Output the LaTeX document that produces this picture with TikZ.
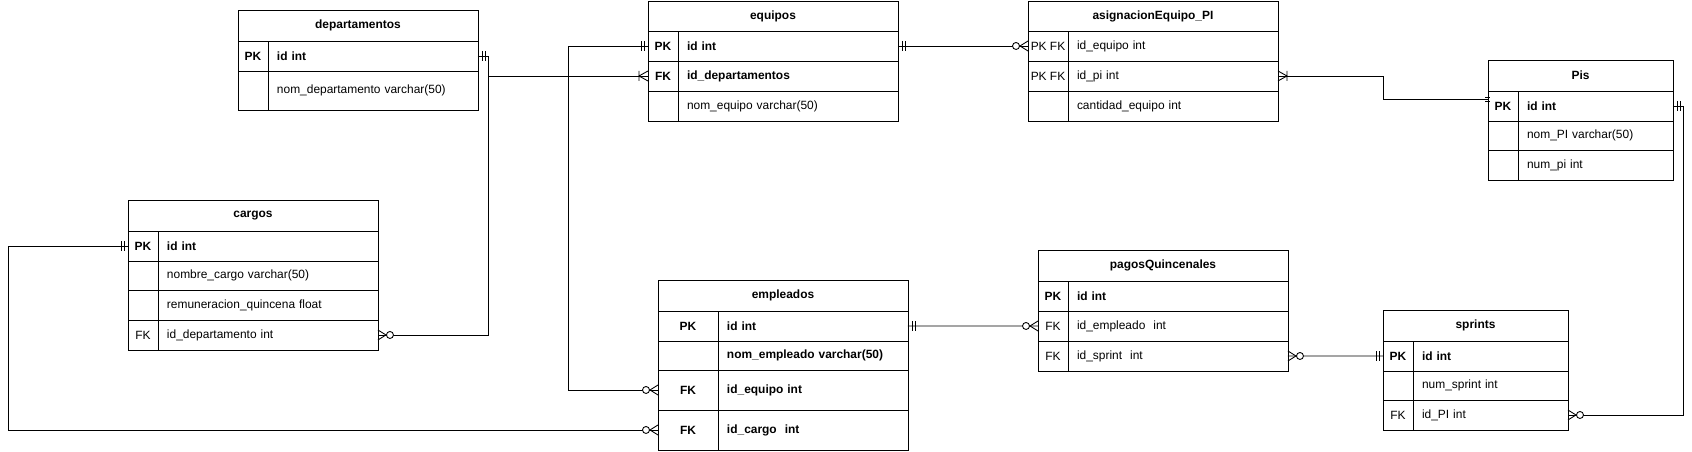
\documentclass[tikz,border=0pt]{standalone}
\usepackage{fontspec}
\setmainfont{Liberation Sans}
\usetikzlibrary{positioning}

\tikzset{
  cell/.style={draw, line width=0.5pt, outer sep=0pt, inner sep=0pt, minimum height=0.6cm,
    font=\fontsize{6.8}{8}\selectfont},
  hdr/.style={cell, font=\fontsize{6.8}{8}\selectfont\bfseries, minimum width=#1,
    minimum height=0.62cm, anchor=north west},
  key/.style={cell, minimum width=#1},
  fld/.style={cell, text width=#1, inner xsep=0.18cm, align=left},
  bf/.style={font=\fontsize{6.8}{8}\selectfont\bfseries},
  conn/.style={line width=0.5pt},
  % crow's foot ends, drawn pointing away from the table
  mone/.pic={\draw[conn] (4,-5) -- (4,5) (7,-5) -- (7,5);},
  mtop/.pic={\draw[conn] (-3,-2) -- (2,-2) (-3,2) -- (2,2);},
  zmany/.pic={\draw[conn] (0,-5) -- (8,0) -- (0,5);
    \draw[conn, fill=white] (12,0) circle[radius=0.07cm];},
  omany/.pic={\draw[conn] (0,-5) -- (9,0) -- (0,5) (9,-5) -- (9,5);}
}

\begin{document}
\begin{tikzpicture}[x=0.02cm, y=-0.02cm]
    \fill[white] (0,0) rectangle (1692,452);
    \useasboundingbox (0,0) rectangle (1692,452);

    % departamentos
    \node[hdr=4.8cm] (dep) at (238,10) {departamentos};
    \node[key=0.6cm, bf, below right=0pt of dep.south west] (dep-idk) {PK};
    \node[fld=3.84cm, bf, right=0pt of dep-idk] (dep-id) {id int};
    \node[key=0.6cm, minimum height=0.78cm, below=0pt of dep-idk] (dep-nomk) {};
    \node[fld=3.84cm, minimum height=0.78cm, right=0pt of dep-nomk] (dep-nom) {nom\_departamento varchar(50)};

    % equipos
    \node[hdr=5cm, minimum height=0.6cm] (eq) at (648,1) {equipos};
    \node[key=0.6cm, bf, below right=0pt of eq.south west] (eq-idk) {PK};
    \node[fld=4.04cm, bf, right=0pt of eq-idk] (eq-id) {id int};
    \node[key=0.6cm, bf, below=0pt of eq-idk] (eq-fkk) {FK};
    \node[fld=4.04cm, bf, right=0pt of eq-fkk] (eq-fk) {id\_departamentos};
    \node[key=0.6cm, below=0pt of eq-fkk] (eq-nomk) {};
    \node[fld=4.04cm, right=0pt of eq-nomk] (eq-nom) {nom\_equipo varchar(50)};

    % asignacionEquipo_PI
    \node[hdr=5cm, minimum height=0.6cm] (as) at (1028,1) {asignacionEquipo\_PI};
    \node[key=0.8cm, below right=0pt of as.south west] (as-eqk) {PK FK};
    \node[fld=3.84cm, right=0pt of as-eqk] (as-eq) {id\_equipo int};
    \node[key=0.8cm, below=0pt of as-eqk] (as-pik) {PK FK};
    \node[fld=3.84cm, right=0pt of as-pik] (as-pi) {id\_pi int};
    \node[key=0.8cm, below=0pt of as-pik] (as-cank) {};
    \node[fld=3.84cm, right=0pt of as-cank] (as-can) {cantidad\_equipo int};

    % Pis
    \node[hdr=3.7cm] (pis) at (1488,60) {Pis};
    \node[key=0.6cm, bf, below right=0pt of pis.south west] (pis-idk) {PK};
    \node[fld=2.74cm, bf, right=0pt of pis-idk] (pis-id) {id int};
    \node[key=0.6cm, minimum height=0.58cm, below=0pt of pis-idk] (pis-nomk) {};
    \node[fld=2.74cm, minimum height=0.58cm, right=0pt of pis-nomk] (pis-nom) {nom\_PI varchar(50)};
    \node[key=0.6cm, below=0pt of pis-nomk] (pis-numk) {};
    \node[fld=2.74cm, right=0pt of pis-numk] (pis-num) {num\_pi int};

    % cargos
    \node[hdr=5cm] (car) at (128,200) {cargos};
    \node[key=0.6cm, bf, below right=0pt of car.south west] (car-idk) {PK};
    \node[fld=4.04cm, bf, right=0pt of car-idk] (car-id) {id int};
    \node[key=0.6cm, minimum height=0.58cm, below=0pt of car-idk] (car-nomk) {};
    \node[fld=4.04cm, minimum height=0.58cm, right=0pt of car-nomk] (car-nom) {nombre\_cargo varchar(50)};
    \node[key=0.6cm, below=0pt of car-nomk] (car-remk) {};
    \node[fld=4.04cm, right=0pt of car-remk] (car-rem) {remuneracion\_quincena float};
    \node[key=0.6cm, below=0pt of car-remk] (car-depk) {FK};
    \node[fld=4.04cm, right=0pt of car-depk] (car-dep) {id\_departamento int};

    % empleados
    \node[hdr=5cm] (emp) at (658,280) {empleados};
    \node[key=1.2cm, bf, below right=0pt of emp.south west] (emp-idk) {PK};
    \node[fld=3.44cm, bf, right=0pt of emp-idk] (emp-id) {id int};
    \node[key=1.2cm, minimum height=0.58cm, below=0pt of emp-idk] (emp-nomk) {};
    \node[fld=3.44cm, bf, minimum height=0.58cm, right=0pt of emp-nomk] (emp-nom) {nom\_empleado varchar(50)};
    \node[key=1.2cm, bf, minimum height=0.8cm, below=0pt of emp-nomk] (emp-eqk) {FK};
    \node[fld=3.44cm, bf, minimum height=0.8cm, right=0pt of emp-eqk] (emp-eq) {id\_equipo int};
    \node[key=1.2cm, bf, minimum height=0.8cm, below=0pt of emp-eqk] (emp-cark) {FK};
    \node[fld=3.44cm, bf, minimum height=0.8cm, right=0pt of emp-cark] (emp-car) {id\_cargo~ int};

    % pagosQuincenales
    \node[hdr=5cm] (pag) at (1038,250) {pagosQuincenales};
    \node[key=0.6cm, bf, below right=0pt of pag.south west] (pag-idk) {PK};
    \node[fld=4.04cm, bf, right=0pt of pag-idk] (pag-id) {id int};
    \node[key=0.6cm, below=0pt of pag-idk] (pag-empk) {FK};
    \node[fld=4.04cm, right=0pt of pag-empk] (pag-emp) {id\_empleado~ int};
    \node[key=0.6cm, below=0pt of pag-empk] (pag-sprk) {FK};
    \node[fld=4.04cm, right=0pt of pag-sprk] (pag-spr) {id\_sprint~ int};

    % sprints
    \node[hdr=3.7cm] (spr) at (1383,310) {sprints};
    \node[key=0.6cm, bf, below right=0pt of spr.south west] (spr-idk) {PK};
    \node[fld=2.74cm, bf, right=0pt of spr-idk] (spr-id) {id int};
    \node[key=0.6cm, minimum height=0.58cm, below=0pt of spr-idk] (spr-numk) {};
    \node[fld=2.74cm, minimum height=0.58cm, right=0pt of spr-numk] (spr-num) {num\_sprint int};
    \node[key=0.6cm, below=0pt of spr-numk] (spr-pik) {FK};
    \node[fld=2.74cm, right=0pt of spr-pik] (spr-pi) {id\_PI int};

    % relations
    \draw[conn] (dep-id.east) -- ++(10,0) |- (eq-fkk.west);
    \draw[conn] (dep-id.east) -- ++(10,0) |- (car-dep.east);
    \draw[conn] (eq-idk.west) -- ++(-80,0) |- (emp-eqk.west);
    \draw[conn] (eq-id.east) -- (as-eqk.west);
    \draw[conn] (as-pi.east) -- ++(105,0) |- ([yshift=0.14cm]pis-idk.west);
    \draw[conn] (pis-id.east) -- ++(10,0) |- (spr-pi.east);
    \draw[conn] (car-idk.west) -- ++(-120,0) |- (emp-cark.west);
    \draw[conn] (emp-id.east) -- (pag-empk.west);
    \draw[conn] (pag-spr.east) -- (spr-idk.west);

    % line ends
    \pic at (dep-id.east) {mone};
    \pic[rotate=180] at (eq-idk.west) {mone};
    \pic at (eq-id.east) {mone};
    \pic at ([yshift=0.14cm]pis-idk.west) {mtop};
    \pic at (pis-id.east) {mone};
    \pic[rotate=180] at (car-idk.west) {mone};
    \pic at (emp-id.east) {mone};
    \pic[rotate=180] at (spr-idk.west) {mone};
    \pic[rotate=180] at (eq-fkk.west) {omany};
    \pic at (as-pi.east) {omany};
    \pic at (car-dep.east) {zmany};
    \pic[rotate=180] at (emp-eqk.west) {zmany};
    \pic[rotate=180] at (as-eqk.west) {zmany};
    \pic at (spr-pi.east) {zmany};
    \pic[rotate=180] at (emp-cark.west) {zmany};
    \pic[rotate=180] at (pag-empk.west) {zmany};
    \pic at (pag-spr.east) {zmany};
\end{tikzpicture}
\end{document}
